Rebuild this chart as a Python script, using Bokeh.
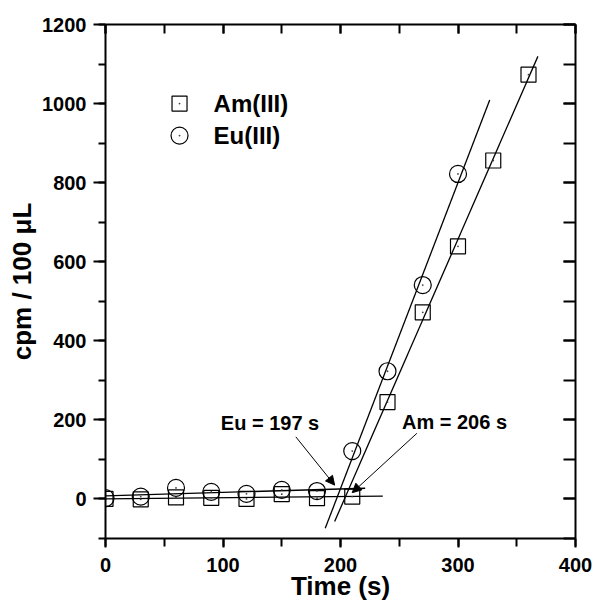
import numpy as np
from bokeh.plotting import figure
from bokeh.models import (LinearAxis, SingleIntervalTicker, Range1d, Arrow,
                          NormalHead, Label, CustomJSTickFormatter)
from bokeh.core.properties import value
from bokeh.embed import file_html
from bokeh.resources import INLINE

# ---------------- data ----------------
am_time = [0, 30, 60, 90, 120, 150, 180, 210, 240, 270, 300, 330, 360]
am_cpm = [0, -1, 4, 3, 0, 12, 2, 6, 245, 472, 639, 856, 1073]
eu_time = [0, 30, 60, 90, 120, 150, 180, 210, 240, 270, 300]
eu_cpm = [2, 6, 28, 18, 13, 23, 20, 121, 323, 541, 822]

series_names = ["Am(III)", "Eu(III)"]

# points used for the two linear fits of each series
am_base_n = 8    # 0..210 s
eu_base_n = 7    # 0..180 s
# drawn extent of the fit lines (s)
am_base_x = [0, 236]
eu_base_x = [0, 221]
am_rise_x = [195, 368]
eu_rise_x = [187, 327]

# annotations
eu_note = "Eu = 197 s"
am_note = "Am = 206 s"
eu_note_xy = (140, 193)
am_note_xy = (297, 195)
eu_arrow = (162, 157, 195, 35)
am_arrow = (265, 166, 210, 16)

x_ticks_interval = 100
y_ticks_interval = 200

FONT = "Liberation Sans"

p = figure(width=592, height=607, output_backend="svg", toolbar_location=None,
           x_range=Range1d(0, 400), y_range=Range1d(-100, 1200),
           min_border_left=105, min_border_right=17, min_border_top=24,
           min_border_bottom=69, x_axis_label="Time (s)",
           y_axis_label="cpm / 100 \u03bcL")
p.grid.visible = False
p.outline_line_color = None
p.background_fill_color = "white"
p.border_fill_color = "white"

xt = SingleIntervalTicker(interval=x_ticks_interval, num_minor_ticks=2)
yt = SingleIntervalTicker(interval=y_ticks_interval, num_minor_ticks=2)

def style(ax, ticker, tin, tout, mtin, mtout, labels=True):
    ax.ticker = ticker
    ax.axis_line_width = 2
    ax.axis_line_color = "black"
    ax.major_tick_line_width = 2
    ax.minor_tick_line_width = 2
    ax.major_tick_line_color = "black"
    ax.minor_tick_line_color = "black"
    ax.major_tick_in = tin
    ax.major_tick_out = tout
    ax.minor_tick_in = mtin
    ax.minor_tick_out = mtout
    ax.major_label_text_font = FONT
    ax.major_label_text_font_style = "bold"
    ax.major_label_text_font_size = "20px"
    ax.major_label_text_color = "black"
    if labels:
        ax.axis_label_text_font = FONT
        ax.axis_label_text_font_style = "bold"
        ax.axis_label_text_font_size = "26px"
        ax.axis_label_text_color = "black"
    else:
        ax.formatter = CustomJSTickFormatter(code="return '';")
        ax.major_label_standoff = 0

xa = p.xaxis[0]
ya = p.yaxis[0]
style(xa, xt, 0, 9, 0, 8)
style(ya, yt, 0, 12, 0, 7)
xa.major_label_standoff = 10
xa.axis_label_standoff = -4
ya.major_label_standoff = 7
ya.axis_label_standoff = 2

top = LinearAxis()
style(top, SingleIntervalTicker(interval=x_ticks_interval, num_minor_ticks=2), 9, 0, 9, 0, labels=False)
p.add_layout(top, "above")
right = LinearAxis()
style(right, SingleIntervalTicker(interval=y_ticks_interval, num_minor_ticks=2), 12, 0, 12, 0, labels=False)
p.add_layout(right, "right")

# ---------------- fits ----------------
at = np.array(am_time, float); ac = np.array(am_cpm, float)
et = np.array(eu_time, float); ec = np.array(eu_cpm, float)
am_b = np.polyfit(at[:am_base_n], ac[:am_base_n], 1)
eu_b = np.polyfit(et[:eu_base_n], ec[:eu_base_n], 1)
am_r = np.polyfit(at[am_base_n:], ac[am_base_n:], 1)
eu_r = np.polyfit(et[eu_base_n:], ec[eu_base_n:], 1)

for coef, xs in [(am_b, am_base_x), (eu_b, eu_base_x), (am_r, am_rise_x), (eu_r, eu_rise_x)]:
    xs = np.array(xs, float)
    p.line(xs, np.polyval(coef, xs), line_color="black", line_width=1.3)

# ---------------- points ----------------
def marker_pts(xs, ys, marker, size):
    p.scatter(xs, ys, marker=marker, size=size, fill_color=None,
              line_color="black", line_width=1.2)
    p.scatter(xs, ys, marker="circle", size=1.8, fill_color="#444444",
              line_color=None)

marker_pts(am_time, am_cpm, "square", 15)
marker_pts(eu_time, eu_cpm, "circle", 17)

# ---------------- manual legend ----------------
leg_x = [63, 63]
leg_y = [1000, 919]
marker_pts(leg_x[:1], leg_y[:1], "square", 15)
marker_pts(leg_x[1:], leg_y[1:], "circle", 17)
p.text([92, 92], leg_y, text=series_names, text_font=value(FONT),
       text_font_style="bold", text_font_size="24px", text_baseline="middle",
       text_align="left", text_color="black")

# ---------------- annotations ----------------
for txt, (lx, ly) in [(eu_note, eu_note_xy), (am_note, am_note_xy)]:
    p.add_layout(Label(x=lx, y=ly, text=txt, text_font=FONT, text_font_style="bold",
                       text_font_size="20px", text_align="center",
                       text_baseline="middle", text_color="black"))
for (x0, y0, x1, y1) in [eu_arrow, am_arrow]:
    p.add_layout(Arrow(x_start=x0, y_start=y0, x_end=x1, y_end=y1,
                       line_color="black", line_width=1,
                       end=NormalHead(size=9, fill_color="black", line_color="black")))

open("out.html", "w").write(file_html(p, INLINE))
